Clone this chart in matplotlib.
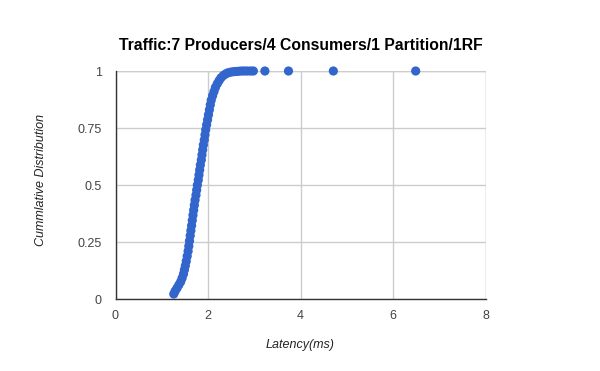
import matplotlib.pyplot as plt

# CDF points (latency in ms, cumulative fraction)
latency = [1.26, 1.29, 1.33, 1.37, 1.41, 1.44, 1.47, 1.49, 1.51, 1.53,
           1.55, 1.57, 1.585, 1.60, 1.615, 1.63, 1.645, 1.66, 1.675, 1.69,
           1.705, 1.72, 1.74, 1.755, 1.77, 1.79, 1.805, 1.82, 1.835, 1.855,
           1.87, 1.885, 1.90, 1.92, 1.935, 1.95, 1.97, 1.99, 2.01, 2.03,
           2.05, 2.07, 2.10, 2.13, 2.16, 2.20, 2.24, 2.28, 2.33, 2.38,
           2.43, 2.49, 2.55, 2.61, 2.67, 2.73, 2.79, 2.85, 2.92, 2.98,
           3.23, 3.74, 4.71, 6.49]
cdf = [0.022, 0.035, 0.048, 0.062, 0.076, 0.092, 0.110, 0.128, 0.146, 0.166,
       0.188, 0.210, 0.232, 0.255, 0.278, 0.300, 0.322, 0.345, 0.368, 0.390,
       0.412, 0.434, 0.456, 0.478, 0.500, 0.522, 0.544, 0.566, 0.588, 0.610,
       0.632, 0.654, 0.676, 0.698, 0.720, 0.742, 0.764, 0.786, 0.808, 0.830,
       0.852, 0.872, 0.892, 0.910, 0.928, 0.944, 0.958, 0.970, 0.980, 0.987,
       0.992, 0.995, 0.997, 0.998, 0.999, 1.0, 1.0, 1.0, 1.0, 1.0,
       1.0, 1.0, 1.0, 1.0]

x_ticks = [0, 2, 4, 6, 8]
y_ticks = [0, 0.25, 0.5, 0.75, 1]
y_tick_labels = ['0', '0.25', '0.5', '0.75', '1']

plt.rcParams['font.family'] = ['Liberation Sans', 'DejaVu Sans']

fig = plt.figure(figsize=(6, 3.71), dpi=100)
ax = fig.add_axes([0.1925, 0.194, 0.6167, 0.6146])

ax.scatter(latency, cdf, s=44, color='#3366cc', edgecolors='none', zorder=3, clip_on=False)

ax.set_xlim(0, 8)
ax.set_ylim(0, 1)
ax.set_xticks(x_ticks)
ax.set_yticks(y_ticks)
ax.set_yticklabels(y_tick_labels)
ax.tick_params(length=0, labelsize=9, colors='#444444', pad=8)
ax.tick_params(axis='y', pad=10)
ax.grid(True, color='#cccccc', linewidth=1)
ax.set_axisbelow(True)

for side in ['top', 'right']:
    ax.spines[side].set_visible(False)
for side in ['left', 'bottom']:
    ax.spines[side].set_color('#333333')
    ax.spines[side].set_linewidth(1)

# right and top gridlines as in the original
ax.axvline(8, color='#cccccc', linewidth=1, zorder=0)
ax.axhline(1, color='#cccccc', linewidth=1, zorder=0)

fig.text(0.502, 0.878, 'Traffic:7 Producers/4 Consumers/1 Partition/1RF',
         ha='center', va='center', fontsize=11.3, fontweight='bold', color='#000000')
fig.text(0.5, 0.07, 'Latency(ms)', ha='center', va='center',
         fontsize=9, style='italic', color='#222222')
fig.text(0.069, 0.515, 'Cummlative Distribution', ha='center', va='center',
         rotation=90, fontsize=9, style='italic', color='#222222')

fig.savefig('out.png', dpi=100)
